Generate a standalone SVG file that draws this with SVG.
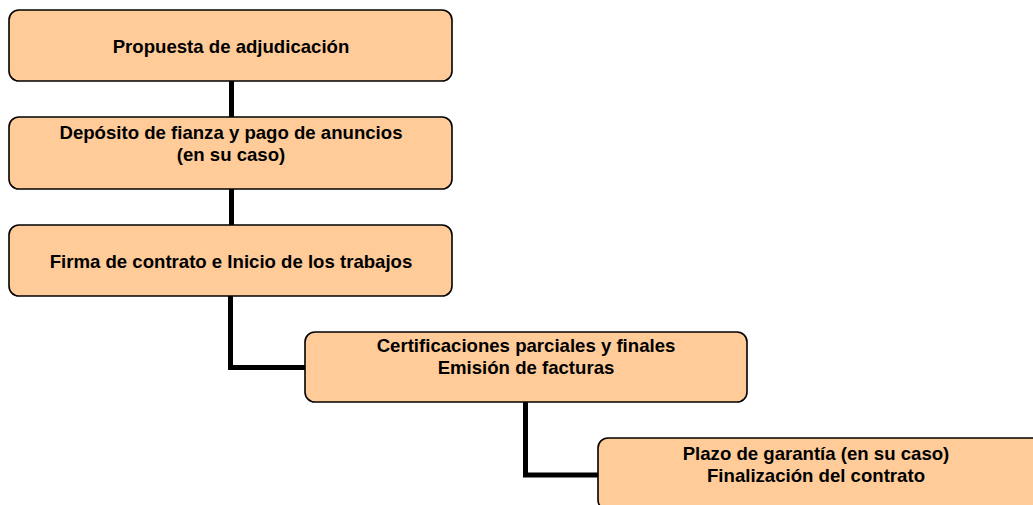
<svg xmlns="http://www.w3.org/2000/svg" width="1033" height="505" viewBox="0 0 1033 505">
<style>
.box{fill:#FFCC99;stroke:#000;stroke-width:1.6}
.lbl{font-family:"Liberation Sans",Arial,sans-serif;font-weight:bold;font-size:18.6px;fill:#000;text-anchor:middle}
.conn{fill:none;stroke:#000;stroke-width:5;stroke-linejoin:miter}
</style>
<rect width="1033" height="505" fill="#fff"/>
<g id="connectors">
<path class="conn" d="M231.5,81 V117"/>
<path class="conn" d="M231.5,189 V225"/>
<path class="conn" d="M230.5,296 V367.5 H305"/>
<path class="conn" d="M525.5,402 V475 H598"/>
</g>
<g id="n1">
<rect class="box" x="9" y="10" width="443" height="71" rx="10"/>
<text class="lbl" x="231" y="53">Propuesta de adjudicación</text>
</g>
<g id="n2">
<rect class="box" x="9" y="117" width="443" height="72" rx="10"/>
<text class="lbl" x="231" y="139">Depósito de fianza y pago de anuncios</text>
<text class="lbl" x="231" y="161">(en su caso)</text>
</g>
<g id="n3">
<rect class="box" x="9" y="225" width="443" height="71" rx="10"/>
<text class="lbl" x="231" y="268">Firma de contrato e Inicio de los trabajos</text>
</g>
<g id="n4">
<rect class="box" x="305" y="332" width="442" height="70" rx="10"/>
<text class="lbl" x="526" y="352">Certificaciones parciales y finales</text>
<text class="lbl" x="526" y="374">Emisión de facturas</text>
</g>
<g id="n5">
<rect class="box" x="598" y="438" width="446" height="72" rx="10"/>
<text class="lbl" x="816" y="460">Plazo de garantía (en su caso)</text>
<text class="lbl" x="816" y="482">Finalización del contrato</text>
</g>
</svg>
